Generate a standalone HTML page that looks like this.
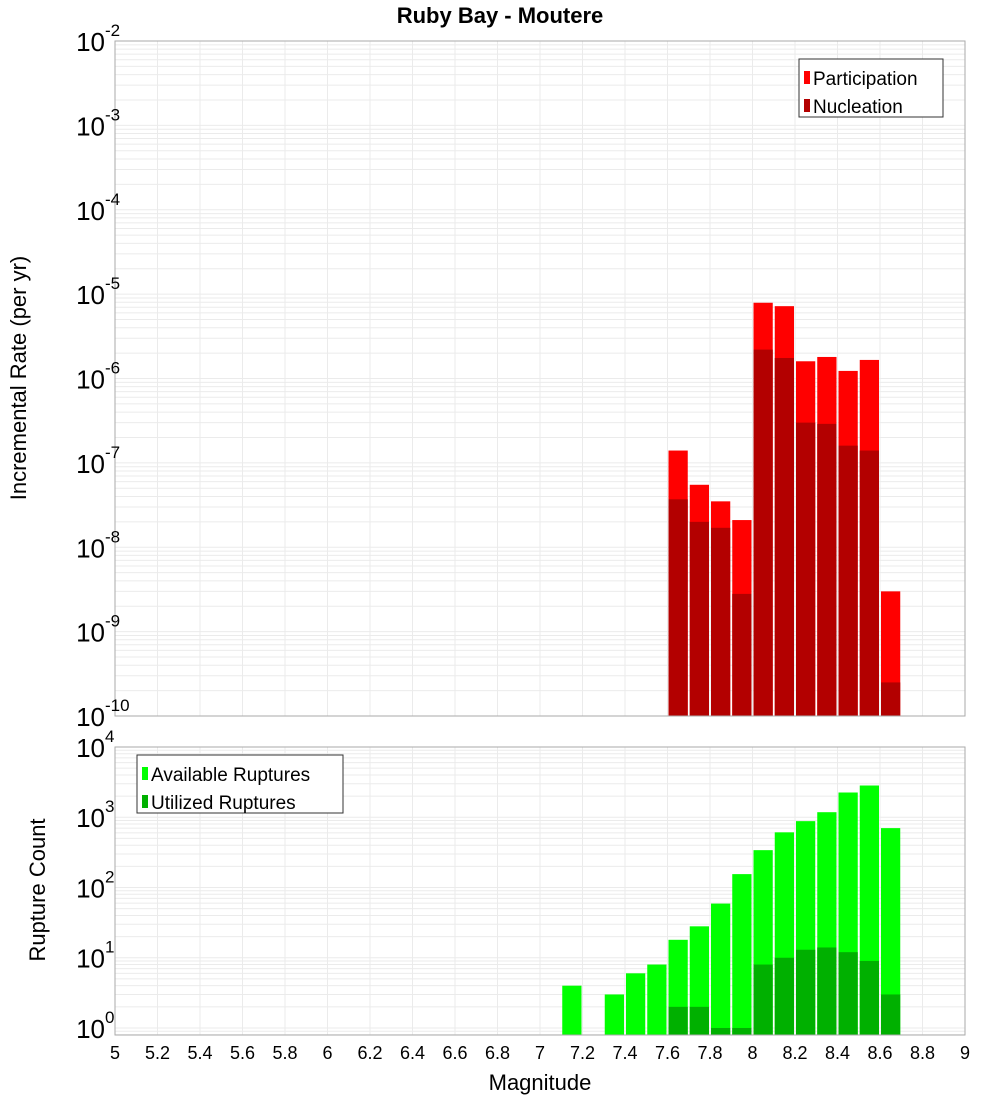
<!DOCTYPE html>
<html><head><meta charset="utf-8"><style>
html,body{margin:0;padding:0;background:#fff;}
svg{display:block;font-family:"Liberation Sans","DejaVu Sans",sans-serif;}
</style></head><body>
<svg id="chart" width="1000" height="1100" viewBox="0 0 1000 1100" xmlns="http://www.w3.org/2000/svg">
<text x="500" y="23" text-anchor="middle" font-size="22" font-weight="bold">Ruby Bay - Moutere</text>
<g id="top"></g><g id="bot"></g>
<text transform="translate(26,378) rotate(-90)" text-anchor="middle" font-size="22">Incremental Rate (per yr)</text>
<text transform="translate(45,890) rotate(-90)" text-anchor="middle" font-size="22">Rupture Count</text>
<text x="540" y="1090" text-anchor="middle" font-size="22">Magnitude</text>
</svg>
<script>
const binCenters=[7.65,7.75,7.85,7.95,8.05,8.15,8.25,8.35,8.45,8.55,8.65];
const participation=[1.4e-7,5.5e-8,3.5e-8,2.1e-8,7.9e-6,7.2e-6,1.6e-6,1.8e-6,1.23e-6,1.66e-6,3.0e-9];
const nucleation=[3.7e-8,2.0e-8,1.7e-8,2.8e-9,2.2e-6,1.75e-6,3.0e-7,2.9e-7,1.6e-7,1.4e-7,2.5e-10];
const countCenters=[7.15,7.35,7.45,7.55,7.65,7.75,7.85,7.95,8.05,8.15,8.25,8.35,8.45,8.55,8.65];
const available=[4,3,6,8,18,28,59,155,340,610,880,1180,2250,2830,700];
const utilizedCenters=[7.65,7.75,7.85,7.95,8.05,8.15,8.25,8.35,8.45,8.55,8.65];
const utilized=[2,2,1,1,8,10,13,14,12,9,3];
const xTicks=[5,5.2,5.4,5.6,5.8,6,6.2,6.4,6.6,6.8,7,7.2,7.4,7.6,7.8,8,8.2,8.4,8.6,8.8,9];
const topExps=[-2,-3,-4,-5,-6,-7,-8,-9,-10];
const botExps=[4,3,2,1,0];

const NS="http://www.w3.org/2000/svg";
const X0=115,X1=965;
const xs=v=>X0+(v-5)/4*(X1-X0);
function mk(p,tag,a){const e=document.createElementNS(NS,tag);for(const k in a)e.setAttribute(k,a[k]);p.appendChild(e);return e;}
function panel(g,top,bot,lmax,lmin){
  const ys=v=>top+(lmax-Math.log10(v))/(lmax-lmin)*(bot-top);
  const bg=mk(g,'rect',{x:X0,y:top,width:X1-X0,height:bot-top,fill:'#fff'});
  
  
  for(let e=Math.floor(lmin);e<lmax;e++)for(let m=1;m<10;m++){
    const v=m*Math.pow(10,e);const l=Math.log10(v);if(l<lmin||l>lmax)continue;
    const y=ys(v);const gl=mk(g,'line',{x1:X0,x2:X1,y1:y,y2:y,stroke:'#ebebeb','stroke-width':1});
    
    
  }
  for(let v=5;v<=9.001;v+=0.2){const x=xs(v);const gl=mk(g,'line',{x1:x,x2:x,y1:top,y2:bot,stroke:'#ebebeb','stroke-width':1});
    
    }
  return ys;
}
function bars(g,centers,vals,ys,bot,color,name){
  centers.forEach((c,i)=>{
    const x=xs(c-0.05)+1,w=xs(c+0.05)-xs(c-0.05)-2,y=ys(vals[i]);
    const r=mk(g,'rect',{x:x,y:y,width:w,height:bot-y,fill:color});
    
    
  });
}
function frame(g,top,bot){const f=mk(g,'rect',{x:X0,y:top,width:X1-X0,height:bot-top,fill:'none',stroke:'#aaa','stroke-width':1});
  
  }
function yLabels(g,exps,ys){
  exps.forEach(e=>{const y=ys(Math.pow(10,e));
    const t=mk(g,'text',{x:105,y:y+10,'text-anchor':'end','font-size':26});
    
    
    t.textContent='10';
    const s=mk(g,'text',{x:105,y:y-5,'font-size':17});
    
    
    s.textContent=String(e);
  });
}
function legend(g,x,y,w,items){
  const b=mk(g,'rect',{x:x,y:y,width:w,height:58,fill:'#fff',stroke:'#333','stroke-width':1});
  
  
  items.forEach((it,i)=>{
    const yy=y+19+i*28;
    const sw=mk(g,'rect',{x:x+5,y:yy-7,width:6,height:13,fill:it[1]});
    
    
    const t=mk(g,'text',{x:x+14,y:yy+7,'font-size':19});
    
    
    t.textContent=it[0];
  });
}
const gt=document.getElementById('top'),gb=document.getElementById('bot');
const ysT=panel(gt,41,716,-2,-10);
bars(gt,binCenters,participation,ysT,716,'#ff0000','participation');
bars(gt,binCenters,nucleation,ysT,716,'#b30000','nucleation');
frame(gt,41,716);yLabels(gt,topExps,ysT);
legend(gt,799,59,144,[['Participation','#ff0000'],['Nucleation','#b30000']]);
const ysB=panel(gb,747,1035,4,-0.1);
bars(gb,countCenters,available,ysB,1035,'#00ff00','available');
bars(gb,utilizedCenters,utilized,ysB,1035,'#00b000','utilized');
frame(gb,747,1035);yLabels(gb,botExps,ysB);
legend(gb,137,755,206,[['Available Ruptures','#00ff00'],['Utilized Ruptures','#00b000']]);
xTicks.forEach(v=>{const t=mk(gb,'text',{x:xs(v),y:1059,'text-anchor':'middle','font-size':18});
  
  
  t.textContent=String(v);});
</script>
</body></html>
